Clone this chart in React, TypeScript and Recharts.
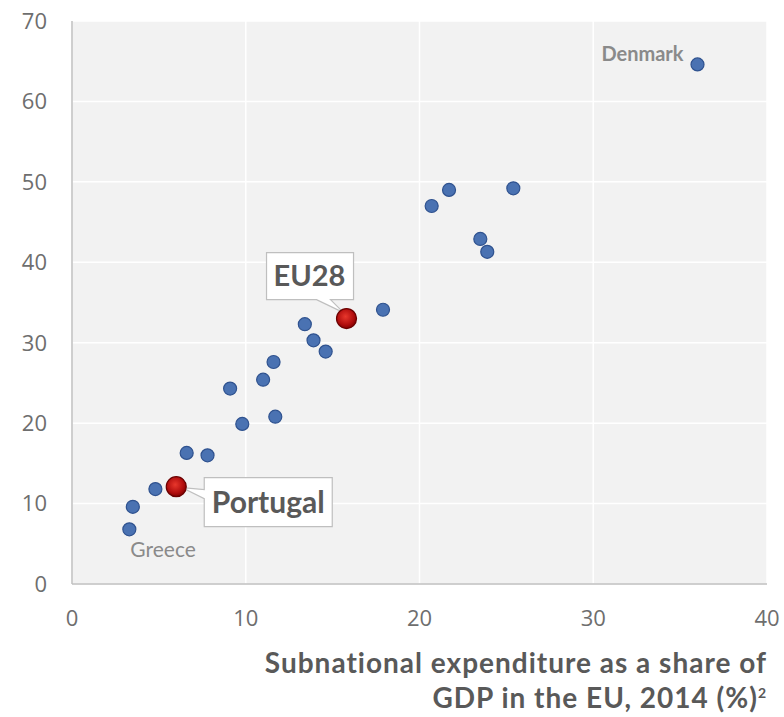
import React from 'react';
import { ScatterChart, Scatter, XAxis, YAxis, CartesianGrid } from 'recharts';

// EU member states: subnational expenditure (% GDP) vs share of total public spending
const countryX = [3.3, 3.5, 4.8, 6.6, 7.8, 9.1, 9.8, 11.0, 11.6, 11.7, 13.4, 13.9, 14.6, 17.9, 20.7, 21.7, 25.4, 23.5, 23.9, 36.0];
const countryY = [6.8, 9.6, 11.8, 16.3, 16.0, 24.3, 19.9, 25.4, 27.6, 20.8, 32.3, 30.3, 28.9, 34.1, 47.0, 49.0, 49.2, 42.9, 41.3, 64.6];
const countryNames = ['Greece', '', '', '', '', '', '', '', '', '', '', '', '', '', '', '', '', '', '', 'Denmark'];

// highlighted points
const highlightX = [6.0, 15.8];
const highlightY = [12.1, 33.0];
const highlightNames = ['Portugal', 'EU28'];

const xTicks = [0, 10, 20, 30, 40];
const yTicks = [0, 10, 20, 30, 40, 50, 60, 70];

const countryData = countryX.map((x, i) => ({ x, y: countryY[i], name: countryNames[i] }));
const highlightData = highlightX.map((x, i) => ({ x, y: highlightY[i], name: highlightNames[i] }));

const GRAY = '#6e6e6e';
const FONT = 'Lato, "Open Sans", sans-serif';

const BlueDot = (props: any) => {
  const { cx, cy, payload } = props;
  const name = payload?.name;
  return (
    <g>
      <circle cx={cx} cy={cy} r={6.5} fill="#4a72b2" stroke="#2f528f" strokeWidth={1.2} />
      {name === 'Denmark' && (
        <text x={cx - 14} y={cy - 3} textAnchor="end" fontFamily={FONT} fontWeight={700} fontSize={20} fill="#8a8a8a">
          {name}
        </text>
      )}
      {name === 'Greece' && (
        <text x={cx + 1} y={cy + 28} textAnchor="start" fontFamily={FONT} fontSize={21} fill="#8a8a8a">
          {name}
        </text>
      )}
    </g>
  );
};

const RedDot = (props: any) => {
  const { cx, cy, payload } = props;
  const name = payload?.name;
  let callout = null;
  if (name === 'Portugal') {
    callout = (
      <g>
        <path
          d={`M${cx + 28},${cy - 9} H${cx + 156} V${cy + 40} H${cx + 28} V${cy + 12} L${cx + 6},${cy + 1} L${cx + 28},${cy + 3} Z`}
          fill="#ffffff"
          stroke="#bfbfbf"
          strokeWidth={1.2}
        />
        <text x={cx + 92} y={cy + 26} textAnchor="middle" fontFamily={FONT} fontWeight={700} fontSize={30} fill="#595959">
          {name}
        </text>
      </g>
    );
  } else if (name === 'EU28') {
    callout = (
      <g>
        <path
          d={`M${cx - 80},${cy - 66} H${cx + 7} V${cy - 19} H${cx - 16} L${cx - 3},${cy - 6} L${cx - 30},${cy - 19} H${cx - 80} Z`}
          fill="#ffffff"
          stroke="#bfbfbf"
          strokeWidth={1.2}
        />
        <text x={cx - 37} y={cy - 33} textAnchor="middle" fontFamily={FONT} fontWeight={700} fontSize={29} fill="#595959">
          {name}
        </text>
      </g>
    );
  }
  return (
    <g>
      {callout}
      <circle cx={cx} cy={cy} r={10} fill="url(#redGrad)" stroke="#6b0000" strokeWidth={1.2} />
    </g>
  );
};

export default function App() {
  return (
    <div style={{ position: 'absolute', left: 0, top: 0, width: 784, height: 717, background: '#fff' }}>
      <ScatterChart width={784} height={717} margin={{ top: 21, right: 17, bottom: 93, left: 0 }}>
        <defs>
          <radialGradient id="redGrad" cx="45%" cy="40%" r="60%">
            <stop offset="0%" stopColor="#e8372c" />
            <stop offset="70%" stopColor="#b00d0d" />
            <stop offset="100%" stopColor="#820000" />
          </radialGradient>
        </defs>
        <CartesianGrid fill="#f2f2f2" stroke="#ffffff" strokeWidth={1.5} />
        <XAxis
          type="number"
          dataKey="x"
          domain={[0, 40]}
          ticks={xTicks}
          height={40}
          tickSize={0}
          tickMargin={26}
          axisLine={{ stroke: '#bfbfbf', strokeWidth: 1.5 }}
          tick={{ fill: GRAY, fontSize: 22, fontFamily: '"Open Sans", sans-serif' }}
        />
        <YAxis
          type="number"
          dataKey="y"
          domain={[0, 70]}
          ticks={yTicks}
          width={72}
          tickSize={0}
          tickMargin={25}
          axisLine={{ stroke: '#bfbfbf', strokeWidth: 1.5 }}
          tick={{ fill: GRAY, fontSize: 22, fontFamily: '"Open Sans", sans-serif' }}
        />
        <Scatter data={countryData} shape={BlueDot} isAnimationActive={false} />
        <Scatter data={highlightData} shape={RedDot} isAnimationActive={false} />
      </ScatterChart>
      <div
        style={{
          position: 'absolute',
          right: 17,
          top: 645,
          textAlign: 'right',
          fontFamily: FONT,
          fontWeight: 700,
          fontSize: 28,
          letterSpacing: 1,
          lineHeight: '35px',
          color: '#595959',
          whiteSpace: 'nowrap',
        }}
      >
        <div>Subnational expenditure as a share of</div>
        <div>
          GDP in the EU, 2014 (%)<sup style={{ fontSize: 14, lineHeight: 0, verticalAlign: 'super' }}>2</sup>
        </div>
      </div>
    </div>
  );
}
